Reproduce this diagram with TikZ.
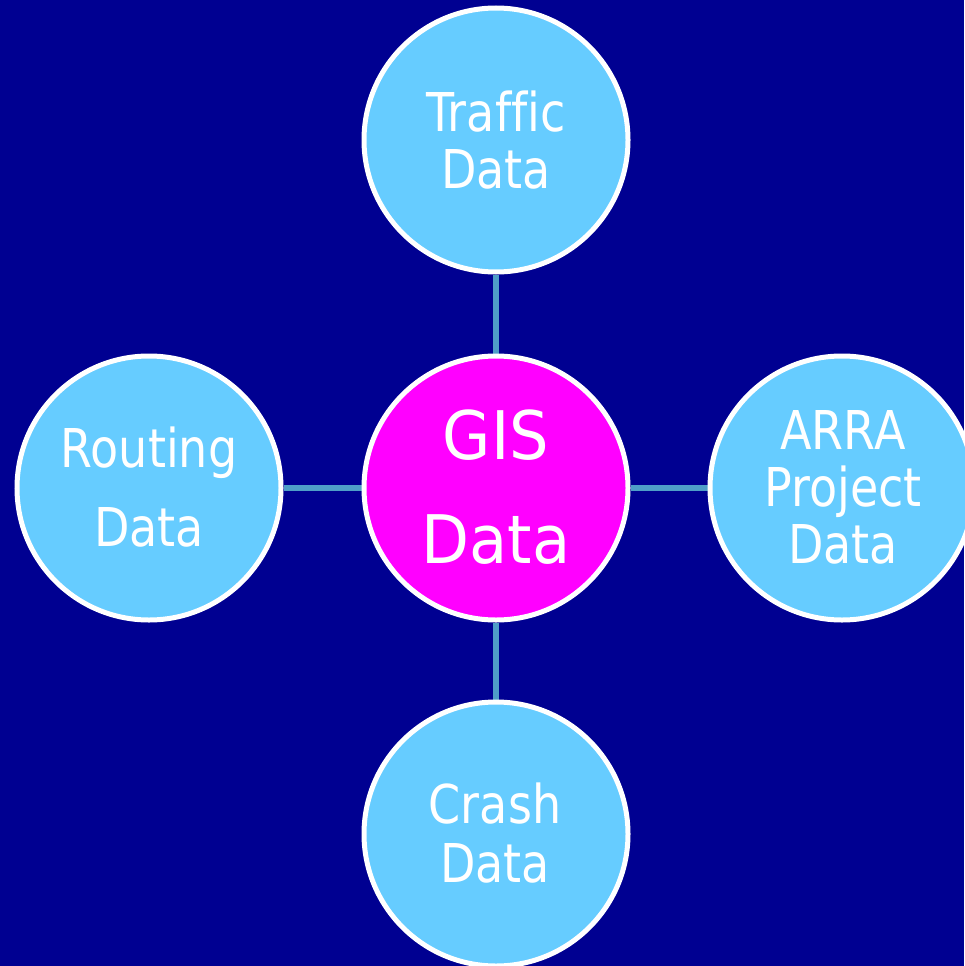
\documentclass[tikz,border=0pt]{standalone}
\usepackage{fontspec}
\newfontfamily\labfont[FakeStretch=0.86,Ligatures=NoCommon]{DejaVu Sans}
\newfontfamily\bigfont[FakeStretch=0.93,Ligatures=NoCommon]{DejaVu Sans}
\definecolor{bgblue}{RGB}{0,0,145}
\definecolor{bubble}{RGB}{102,204,255}
\definecolor{hub}{RGB}{255,0,255}
\definecolor{link}{RGB}{79,158,200}
\pgfdeclarelayer{back}
\pgfdeclarelayer{bg}
\pgfsetlayers{back,bg,main}
\tikzset{
  bubblenode/.style={circle, draw=white, line width=5pt, minimum size=264pt, inner sep=0pt, fill=bubble},
  hubnode/.style={bubblenode, fill=hub},
  txt/.style={anchor=base, text=white, inner sep=0pt, font=\labfont\fontsize{53.5}{60}\selectfont},
  bigtxt/.style={anchor=base, text=white, inner sep=0pt, font=\bigfont\fontsize{67}{75}\selectfont},
  linkline/.style={draw=link, line width=6pt}
}
\begin{document}
\begin{tikzpicture}[x=1pt,y=-1pt]
\begin{pgfonlayer}{back}
\fill[bgblue] (0,0) rectangle (964,966);
\end{pgfonlayer}
\useasboundingbox (0,0) rectangle (964,966);
\node[bubblenode] (traffic) at (496,140) {};
\node[hubnode] (gis) at (496,488) {};
\node[bubblenode] (routing) at (149,488) {};
\node[bubblenode] (arra) at (842,488) {};
\node[bubblenode] (crash) at (496,834) {};
\begin{pgfonlayer}{bg}
\draw[linkline] (gis) -- (traffic);
\draw[linkline] (gis) -- (routing);
\draw[linkline] (gis) -- (arra);
\draw[linkline] (gis) -- (crash);
\end{pgfonlayer}
\node[txt] (trafficA) at (496,131) {Traffic};
\node[txt] (trafficB) at (496,188) {Data};
\node[bigtxt] (gisA) at (496,459) {GIS};
\node[bigtxt] (gisB) at (496,563) {Data};
\node[txt] (routingA) at (149,467) {Routing};
\node[txt] (routingB) at (149,546) {Data};
\node[txt] (arraA) at (843,449) {ARRA};
\node[txt] (arraB) at (843,506) {Project};
\node[txt] (arraC) at (843,563) {Data};
\node[txt] (crashA) at (495,823) {Crash};
\node[txt] (crashB) at (495,882) {Data};
\end{tikzpicture}
\end{document}
